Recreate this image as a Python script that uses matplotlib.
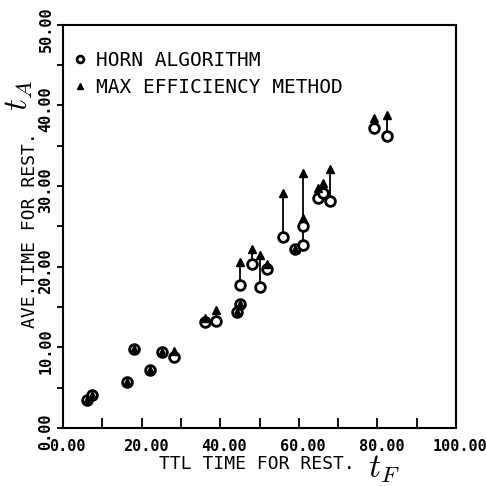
import numpy as np
import matplotlib
matplotlib.use("Agg")
import matplotlib.pyplot as plt
import matplotlib.transforms as mtransforms
from matplotlib.ticker import MultipleLocator, FormatStrFormatter

# total time for restoration (x) and average time (y) per case
t_F = [6.0, 7.4, 16.2, 18.1, 22.1, 25.1, 28.1, 36.0, 38.9, 44.2, 45.0, 45.1,
       48.0, 50.1, 52.0, 56.1, 59.0, 61.1, 61.1, 65.0, 66.1, 67.9, 79.1, 82.4]
horn = [3.5, 4.1, 5.7, 9.8, 7.2, 9.5, 8.8, 13.1, 13.3, 14.4, 15.4, 17.7,
        20.4, 17.5, 19.7, 23.7, 22.2, 22.7, 25.1, 28.5, 29.2, 28.2, 37.2, 36.2]
max_eff = [3.5, 4.1, 5.7, 9.8, 7.2, 9.5, 9.6, 13.6, 14.7, 14.4, 15.4, 20.6,
           22.2, 21.5, 20.4, 29.1, 22.2, 31.6, 26.0, 29.8, 30.4, 32.1, 38.4, 38.8]

plt.rcParams['font.family'] = 'DejaVu Sans Mono'
plt.rcParams['mathtext.fontset'] = 'cm'

fig = plt.figure(figsize=(4.86, 4.86), dpi=100)
ax = fig.add_axes([0.130, 0.119, 0.808, 0.830])

# connecting lines between the two methods
ax.vlines(t_F, horn, max_eff, colors='black', linewidth=1.3, zorder=2)

ax.plot(t_F, horn, ls='none', marker='o', markersize=7, markerfacecolor='white',
        markeredgecolor='black', markeredgewidth=2.0, label='HORN ALGORITHM', zorder=3)
ax.plot(t_F, max_eff, ls='none', marker='^', markersize=6, color='black',
        label='MAX EFFICIENCY METHOD', zorder=4)

ax.set_xlim(0, 100)
ax.set_ylim(0, 50)

ax.xaxis.set_major_locator(MultipleLocator(20))
ax.xaxis.set_minor_locator(MultipleLocator(10))
ax.yaxis.set_major_locator(MultipleLocator(10))
ax.yaxis.set_minor_locator(MultipleLocator(5))
ax.xaxis.set_major_formatter(FormatStrFormatter('%.2f'))
ax.yaxis.set_major_formatter(FormatStrFormatter('%.2f'))

ax.tick_params(axis='x', which='both', direction='in', length=7, width=1.3,
               labelsize=11, pad=8)
ax.tick_params(axis='y', which='both', direction='out', length=4, width=1.3,
               labelsize=11, pad=3)

# plotter labels sit a little right of / below their ticks
dx = mtransforms.ScaledTranslation(4 / 100, 0, fig.dpi_scale_trans)
dy = mtransforms.ScaledTranslation(0, -4 / 100, fig.dpi_scale_trans)
xlabs = ax.get_xticklabels()
for lab in xlabs:
    lab.set_fontweight('bold')
for lab in xlabs[:-1]:
    lab.set_transform(lab.get_transform() + dx)
for lab in ax.get_yticklabels():
    lab.set_fontweight('bold')
    lab.set_rotation(90)
    lab.set_va('center')
    lab.set_transform(lab.get_transform() + dy)

for s in ax.spines.values():
    s.set_linewidth(1.5)

leg = ax.legend(loc='upper left', frameon=False, fontsize=14, handletextpad=0.5,
                handlelength=0.6, borderaxespad=0, borderpad=0, labelspacing=0.4,
                markerscale=0.7, bbox_to_anchor=(0.028, 0.935))

fig.text(0.529, 0.045, 'TTL TIME FOR REST.', ha='center', va='center', fontsize=13)
fig.text(0.79, 0.035, r'$t_F$', ha='center', va='center', fontsize=24)
fig.text(0.062, 0.527, 'AVE.TIME FOR REST.', ha='center', va='center',
         fontsize=13, rotation=90)
fig.text(0.038, 0.803, r'$t_A$', ha='center', va='center', fontsize=24, rotation=90)

fig.savefig('out.png', dpi=100)
